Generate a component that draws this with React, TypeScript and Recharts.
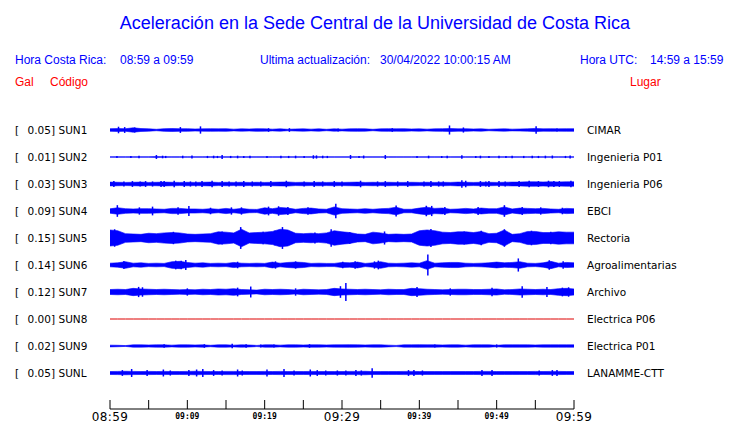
import React from "react";
import { Area, ComposedChart, ErrorBar, Line, Scatter, XAxis, YAxis } from "recharts";

// station list, top to bottom
const CODES = ["SUN1", "SUN2", "SUN3", "SUN4", "SUN5", "SUN6", "SUN7", "SUN8", "SUN9", "SUNL"];
const PEAK_GAL = ["0.05", "0.01", "0.03", "0.09", "0.15", "0.14", "0.12", "0.00", "0.02", "0.05"];
const PLACES = [
  "CIMAR",
  "Ingenieria P01",
  "Ingenieria P06",
  "EBCI",
  "Rectoria",
  "Agroalimentarias",
  "Archivo",
  "Electrica P06",
  "Electrica P01",
  "LANAMME-CTT",
];

// minutes after 08:59 for the axis
const TICK_MINUTES = [0, 5, 10, 15, 20, 25, 30, 35, 40, 45, 50, 55, 60];
const TICK_LABELS = ["08:59", "", "09:09", "", "09:19", "", "09:29", "", "09:39", "", "09:49", "", "09:59"];
const BIG_LABELS = ["08:59", "09:29", "09:59"];

// envelope half-amplitude (Gal), one value per minute, 08:59 .. 09:59
const ENV_SUN1 = [0.018, 0.02, 0.018, 0.03, 0.02, 0.016, 0.01, 0.018, 0.02, 0.018, 0.018, 0.014, 0.016, 0.018, 0.016, 0.018, 0.012, 0.016, 0.014, 0.018, 0.016, 0.012, 0.016, 0.01, 0.014, 0.016, 0.012, 0.016, 0.01, 0.016, 0.012, 0.016, 0.018, 0.016, 0.01, 0.016, 0.018, 0.016, 0.018, 0.014, 0.016, 0.012, 0.016, 0.018, 0.02, 0.016, 0.018, 0.014, 0.016, 0.01, 0.014, 0.016, 0.012, 0.014, 0.016, 0.022, 0.016, 0.018, 0.016, 0.018, 0.018];
const ENV_SUN2 = [0.003, 0.004, 0.003, 0.004, 0.003, 0.003, 0.006, 0.004, 0.003, 0.004, 0.003, 0.003, 0.003, 0.004, 0.005, 0.003, 0.003, 0.003, 0.003, 0.003, 0.004, 0.003, 0.003, 0.003, 0.003, 0.003, 0.005, 0.005, 0.003, 0.003, 0.003, 0.004, 0.003, 0.003, 0.003, 0.003, 0.004, 0.003, 0.003, 0.003, 0.003, 0.003, 0.003, 0.003, 0.003, 0.005, 0.004, 0.003, 0.003, 0.003, 0.003, 0.003, 0.003, 0.003, 0.003, 0.004, 0.003, 0.003, 0.003, 0.003, 0.003];
const ENV_SUN3 = [0.026, 0.024, 0.022, 0.024, 0.026, 0.022, 0.024, 0.026, 0.024, 0.022, 0.024, 0.022, 0.024, 0.026, 0.022, 0.024, 0.022, 0.024, 0.022, 0.024, 0.022, 0.024, 0.026, 0.028, 0.022, 0.024, 0.022, 0.024, 0.022, 0.024, 0.022, 0.024, 0.026, 0.022, 0.024, 0.022, 0.024, 0.022, 0.022, 0.024, 0.022, 0.024, 0.022, 0.024, 0.022, 0.026, 0.024, 0.022, 0.024, 0.024, 0.022, 0.024, 0.026, 0.026, 0.03, 0.03, 0.028, 0.03, 0.028, 0.03, 0.03];
const ENV_SUN4 = [0.03, 0.045, 0.032, 0.028, 0.032, 0.032, 0.028, 0.024, 0.036, 0.036, 0.028, 0.028, 0.024, 0.032, 0.024, 0.036, 0.024, 0.036, 0.024, 0.022, 0.044, 0.032, 0.048, 0.04, 0.024, 0.036, 0.04, 0.028, 0.024, 0.056, 0.032, 0.028, 0.024, 0.032, 0.024, 0.032, 0.036, 0.052, 0.024, 0.024, 0.04, 0.052, 0.036, 0.04, 0.024, 0.028, 0.036, 0.028, 0.04, 0.032, 0.032, 0.056, 0.028, 0.04, 0.036, 0.032, 0.036, 0.028, 0.024, 0.036, 0.032];
const ENV_SUN5 = [0.11, 0.1, 0.06, 0.055, 0.05, 0.065, 0.06, 0.07, 0.075, 0.07, 0.055, 0.05, 0.055, 0.06, 0.085, 0.08, 0.07, 0.12, 0.07, 0.075, 0.08, 0.09, 0.12, 0.11, 0.065, 0.06, 0.065, 0.06, 0.07, 0.1, 0.085, 0.075, 0.055, 0.05, 0.08, 0.07, 0.05, 0.055, 0.05, 0.055, 0.1, 0.11, 0.1, 0.08, 0.075, 0.085, 0.085, 0.075, 0.09, 0.06, 0.065, 0.11, 0.05, 0.06, 0.09, 0.09, 0.075, 0.075, 0.085, 0.08, 0.08];
const ENV_SUN6 = [0.025, 0.03, 0.045, 0.025, 0.03, 0.022, 0.025, 0.022, 0.045, 0.05, 0.035, 0.025, 0.03, 0.022, 0.025, 0.022, 0.035, 0.025, 0.022, 0.025, 0.022, 0.04, 0.025, 0.035, 0.04, 0.035, 0.022, 0.025, 0.022, 0.022, 0.035, 0.03, 0.04, 0.022, 0.03, 0.045, 0.025, 0.022, 0.025, 0.03, 0.025, 0.06, 0.025, 0.03, 0.035, 0.035, 0.025, 0.022, 0.025, 0.03, 0.04, 0.03, 0.035, 0.045, 0.025, 0.022, 0.03, 0.05, 0.025, 0.035, 0.03];
const ENV_SUN7 = [0.034, 0.038, 0.034, 0.05, 0.042, 0.038, 0.034, 0.038, 0.034, 0.03, 0.034, 0.03, 0.038, 0.034, 0.042, 0.038, 0.046, 0.034, 0.03, 0.026, 0.038, 0.034, 0.038, 0.034, 0.026, 0.038, 0.034, 0.03, 0.034, 0.05, 0.042, 0.038, 0.034, 0.038, 0.034, 0.03, 0.038, 0.034, 0.034, 0.05, 0.046, 0.038, 0.034, 0.03, 0.034, 0.038, 0.038, 0.034, 0.034, 0.038, 0.042, 0.03, 0.034, 0.042, 0.038, 0.034, 0.038, 0.034, 0.046, 0.05, 0.042];
const ENV_SUN8 = [0, 0, 0, 0, 0, 0, 0, 0, 0, 0, 0, 0, 0, 0, 0, 0, 0, 0, 0, 0, 0, 0, 0, 0, 0, 0, 0, 0, 0, 0, 0, 0, 0, 0, 0, 0, 0, 0, 0, 0, 0, 0, 0, 0, 0, 0, 0, 0, 0, 0, 0, 0, 0, 0, 0, 0, 0, 0, 0, 0, 0];
const ENV_SUN9 = [0.012, 0.01, 0.006, 0.016, 0.016, 0.014, 0.016, 0.016, 0.012, 0.016, 0.016, 0.014, 0.016, 0.01, 0.016, 0.016, 0.012, 0.016, 0.014, 0.008, 0.016, 0.016, 0.012, 0.016, 0.016, 0.014, 0.016, 0.016, 0.014, 0.016, 0.016, 0.018, 0.016, 0.014, 0.016, 0.016, 0.012, 0.008, 0.016, 0.016, 0.018, 0.016, 0.016, 0.014, 0.016, 0.016, 0.012, 0.016, 0.016, 0.016, 0.01, 0.016, 0.016, 0.016, 0.016, 0.014, 0.016, 0.016, 0.016, 0.016, 0.016];
const ENV_SUNL = [0.02, 0.022, 0.024, 0.022, 0.02, 0.022, 0.02, 0.022, 0.02, 0.02, 0.022, 0.024, 0.022, 0.02, 0.02, 0.022, 0.022, 0.02, 0.02, 0.02, 0.022, 0.02, 0.022, 0.02, 0.02, 0.02, 0.022, 0.02, 0.02, 0.02, 0.02, 0.022, 0.022, 0.024, 0.02, 0.02, 0.02, 0.02, 0.022, 0.022, 0.02, 0.02, 0.02, 0.02, 0.02, 0.02, 0.02, 0.02, 0.022, 0.022, 0.02, 0.02, 0.02, 0.02, 0.02, 0.022, 0.02, 0.022, 0.022, 0.02, 0.02];

// short spikes: [minute, half-amplitude Gal]
const SPK_SUN1 = [[1.1, 0.045], [1.9, 0.04], [3.2, 0.035], [9.1, 0.04], [11.7, 0.05], [20.5, 0.025], [23.2, 0.025], [29.5, 0.022], [36.5, 0.025], [43.9, 0.062], [45.7, 0.035], [55.1, 0.052], [57.8, 0.022]];
const SPK_SUN2 = [[0.9, 0.015], [2.7, 0.015], [3.75, 0.018], [6.0, 0.027], [6.8, 0.018], [7.2, 0.015], [9.4, 0.018], [10.6, 0.02], [12.6, 0.015], [13.4, 0.018], [13.9, 0.015], [14.5, 0.027], [15.6, 0.015], [16.5, 0.018], [17.3, 0.015], [18.1, 0.018], [20.3, 0.015], [22.1, 0.018], [23.1, 0.015], [24.0, 0.018], [25.1, 0.015], [26.3, 0.024], [26.7, 0.022], [27.5, 0.018], [28.1, 0.015], [31.1, 0.027], [32.2, 0.015], [32.8, 0.02], [35.6, 0.027], [39.7, 0.015], [41.2, 0.018], [42.9, 0.015], [43.6, 0.018], [45.5, 0.024], [47.3, 0.015], [47.9, 0.018], [49.0, 0.015], [50.3, 0.018], [51.2, 0.015], [52.0, 0.018], [53.5, 0.015], [54.6, 0.018], [55.4, 0.015], [56.3, 0.018], [57.2, 0.02], [58.9, 0.015], [59.5, 0.02]];
const SPK_SUN3 = [[0.5, 0.04], [1.8, 0.035], [2.9, 0.04], [3.9, 0.035], [4.6, 0.04], [5.5, 0.035], [6.6, 0.04], [7.0, 0.04], [8.3, 0.045], [9.6, 0.04], [10.4, 0.035], [11.1, 0.035], [11.9, 0.04], [13.2, 0.045], [14.5, 0.04], [15.4, 0.035], [16.3, 0.035], [17.3, 0.04], [18.4, 0.035], [19.5, 0.035], [20.8, 0.04], [22.8, 0.045], [25.1, 0.035], [26.4, 0.04], [27.5, 0.035], [29.0, 0.04], [30.0, 0.035], [32.4, 0.045], [34.6, 0.035], [35.6, 0.04], [37.2, 0.035], [38.5, 0.04], [40.6, 0.035], [41.5, 0.04], [42.5, 0.035], [43.1, 0.035], [45.5, 0.05], [46.0, 0.045], [47.9, 0.04], [48.6, 0.035], [49.0, 0.04], [50.3, 0.04], [51.1, 0.035], [52.9, 0.04], [54.2, 0.045], [55.4, 0.04], [56.7, 0.045], [57.4, 0.04], [58.1, 0.04], [59.6, 0.045]];
const SPK_SUN4 = [[0.95, 0.08], [3.8, 0.05], [5.5, 0.06], [8.8, 0.05], [10.2, 0.07], [13.0, 0.045], [15.7, 0.05], [17.0, 0.05], [20.5, 0.06], [21.8, 0.065], [23.0, 0.055], [25.6, 0.05], [29.2, 0.1], [37.0, 0.075], [40.9, 0.072], [41.6, 0.07], [43.3, 0.055], [47.6, 0.055], [51.0, 0.08], [53.3, 0.055], [55.7, 0.05], [58.5, 0.045]];
const SPK_SUN5 = [[0.6, 0.12], [8.2, 0.085], [14.5, 0.09], [16.9, 0.15], [19.8, 0.085], [21.3, 0.1], [22.3, 0.15], [26.5, 0.075], [28.6, 0.12], [31.0, 0.08], [35.5, 0.09], [40.5, 0.1], [41.5, 0.125], [45.8, 0.09], [48.0, 0.1], [51.0, 0.12], [54.5, 0.1], [57.0, 0.085]];
const SPK_SUN6 = [[1.8, 0.055], [8.5, 0.06], [9.2, 0.06], [9.8, 0.068], [16.5, 0.045], [21.4, 0.05], [24.0, 0.05], [30.1, 0.045], [31.7, 0.05], [34.2, 0.05], [34.7, 0.06], [41.1, 0.145], [52.8, 0.09], [56.8, 0.065], [58.6, 0.05]];
const SPK_SUN7 = [[3.7, 0.07], [4.2, 0.065], [10.0, 0.05], [16.5, 0.06], [18.2, 0.075], [24.0, 0.05], [29.8, 0.08], [30.5, 0.125], [39.7, 0.07], [44.0, 0.05], [49.4, 0.06], [53.3, 0.08], [56.5, 0.07], [58.5, 0.06], [59.3, 0.065]];
const SPK_SUN8: number[][] = [];
const SPK_SUN9 = [[7.0, 0.025], [12.2, 0.025], [15.8, 0.03], [17.6, 0.025], [19.5, 0.022], [21.2, 0.022], [25.8, 0.025], [42.0, 0.022], [50.0, 0.022]];
const SPK_SUNL = [[1.6, 0.04], [2.8, 0.055], [4.8, 0.04], [6.9, 0.048], [7.8, 0.035], [10.2, 0.04], [11.2, 0.048], [12.0, 0.055], [13.4, 0.04], [14.5, 0.035], [16.5, 0.048], [17.1, 0.035], [20.3, 0.048], [22.5, 0.055], [23.8, 0.035], [25.9, 0.048], [26.8, 0.04], [27.9, 0.035], [29.4, 0.035], [30.5, 0.035], [31.8, 0.04], [32.5, 0.035], [33.9, 0.065], [38.6, 0.04], [39.3, 0.04], [40.4, 0.035], [48.1, 0.04], [49.4, 0.04], [55.5, 0.035], [57.2, 0.04], [57.8, 0.04]];

const ENVELOPES = [ENV_SUN1, ENV_SUN2, ENV_SUN3, ENV_SUN4, ENV_SUN5, ENV_SUN6, ENV_SUN7, ENV_SUN8, ENV_SUN9, ENV_SUNL];
const SPIKES = [SPK_SUN1, SPK_SUN2, SPK_SUN3, SPK_SUN4, SPK_SUN5, SPK_SUN6, SPK_SUN7, SPK_SUN8, SPK_SUN9, SPK_SUNL];

const BLUE = "#0000ff";
const RED = "#ff0000";
const DARK_RED = "#dd0000";
const GAL_TO_ROW = 2.7; // one row = 27px, one Gal ~ 73px
const rowCenter = (i: number) => 9 - i;

const rows = ENV_SUN1.map((_, m) => {
  const r: Record<string, number> = { t: m };
  CODES.forEach((c, i) => {
    r[c] = ENVELOPES[i][m];
  });
  return r;
});

const TimeTick = (props: any) => {
  const { x, y, payload } = props;
  const label = TICK_LABELS[TICK_MINUTES.indexOf(payload.value)];
  const big = BIG_LABELS.includes(label);
  return (
    <g>
      <line x1={x} y1={y} x2={x} y2={y - 9} stroke="#000" strokeWidth={1} />
      {label && (
        <text
          x={x}
          y={big ? y + 12 : y + 10}
          textAnchor="middle"
          fill="#000"
          fontFamily={big ? "DejaVu Sans" : "DejaVu Sans Mono"}
          fontWeight={big ? 400 : 700}
          fontSize={big ? 12 : 8}
          letterSpacing={big ? 0.4 : 0}
        >
          {label}
        </text>
      )}
    </g>
  );
};

const font = "Liberation Sans, Arial, sans-serif";
const rowFont = "DejaVu Sans, sans-serif";

export default function App() {
  return (
    <div style={{ position: "absolute", left: 0, top: 0, width: 740, height: 423, background: "#fff" }}>
      <ComposedChart width={740} height={423} data={rows} margin={{ top: 103, right: 166, bottom: 0, left: 110 }}>
        <XAxis
          type="number"
          dataKey="t"
          domain={[0, 60]}
          ticks={TICK_MINUTES}
          interval={0}
          allowDataOverflow
          height={14}
          tickSize={0}
          tickMargin={0}
          tickLine={false}
          axisLine={{ stroke: "#000" }}
          tick={<TimeTick />}
        />
        <YAxis type="number" domain={[-4 / 3, 10]} allowDataOverflow hide />
        {CODES.map((c, i) =>
          c === "SUN8" ? (
            <Line
              key={c}
              dataKey={(d: any) => rowCenter(i) + d[c] * GAL_TO_ROW}
              stroke={DARK_RED}
              strokeWidth={1}
              dot={false}
              isAnimationActive={false}
            />
          ) : (
            <Area
              key={c}
              type="linear"
              dataKey={(d: any) => [rowCenter(i) - d[c] * GAL_TO_ROW, rowCenter(i) + d[c] * GAL_TO_ROW]}
              stroke={BLUE}
              strokeWidth={0.6}
              fill={BLUE}
              fillOpacity={1}
              isAnimationActive={false}
            />
          )
        )}
        {CODES.map((c, i) =>
          SPIKES[i].length ? (
            <Scatter
              key={`s-${c}`}
              data={SPIKES[i].map(([t, a]) => ({ t, y: rowCenter(i), e: a * GAL_TO_ROW }))}
              dataKey="y"
              shape={() => <g />}
              isAnimationActive={false}
            >
              <ErrorBar dataKey="e" direction="y" width={0} stroke={BLUE} strokeWidth={1.5} isAnimationActive={false} />
            </Scatter>
          ) : null
        )}
      </ComposedChart>
      <svg width={740} height={423} style={{ position: "absolute", left: 0, top: 0, pointerEvents: "none" }}>
        <text x={375} y={29} textAnchor="middle" fill={BLUE} fontFamily={font} fontSize={18}>
          Aceleración en la Sede Central de la Universidad de Costa Rica
        </text>
        <g fill={BLUE} fontFamily={font} fontSize={12}>
          <text x={15} y={64}>Hora Costa Rica:</text>
          <text x={120} y={64}>08:59 a 09:59</text>
          <text x={260} y={64}>Ultima actualización:</text>
          <text x={380} y={64}>30/04/2022 10:00:15 AM</text>
          <text x={580} y={64}>Hora UTC:</text>
          <text x={650} y={64}>14:59 a 15:59</text>
        </g>
        <g fill={RED} fontFamily={font} fontSize={12}>
          <text x={15} y={86}>Gal</text>
          <text x={50} y={86}>Código</text>
          <text x={630} y={86}>Lugar</text>
        </g>
        <g fill="#000" fontFamily={rowFont} fontSize={10.5}>
          {CODES.map((c, i) => {
            const y = 130 + i * 27 + 4;
            return (
              <g key={c}>
                <text x={15} y={y}>[</text>
                <text x={27.5} y={y}>{PEAK_GAL[i]}]</text>
                <text x={58.5} y={y}>{c}</text>
                <text x={587} y={y}>{PLACES[i]}</text>
              </g>
            );
          })}
        </g>
      </svg>
    </div>
  );
}
